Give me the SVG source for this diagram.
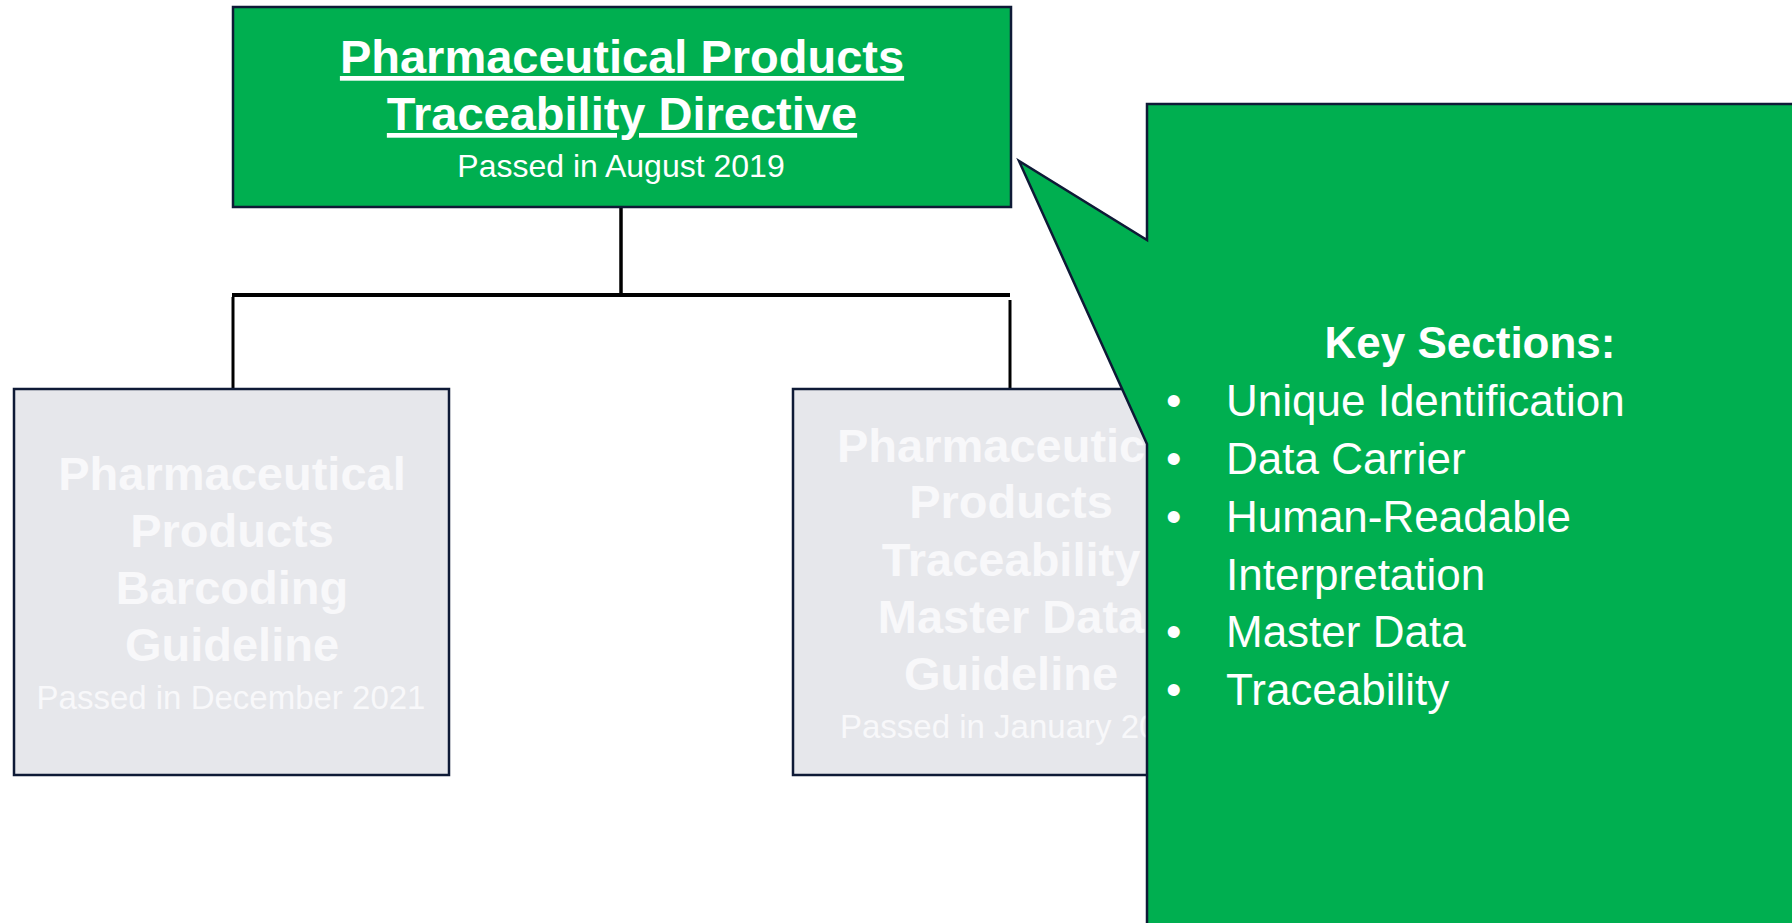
<svg xmlns="http://www.w3.org/2000/svg" width="1792" height="923" viewBox="0 0 1792 923">
<style>
.box{stroke:#0E1A36;stroke-width:2.5}
.green{fill:#00AF50}
.grey{fill:#E6E7EB}
.t{font-family:"Liberation Sans",Arial,sans-serif;text-anchor:middle}
.s{font-family:"Liberation Sans",Arial,sans-serif;text-anchor:start}
.b{font-weight:bold}
.w{fill:#FFFFFF}
.gw{fill:#F8F8FA}
.conn{stroke:#000;fill:none}
.li{font-family:"Liberation Sans",Arial,sans-serif;font-size:44px;fill:#FFFFFF}
</style>
<rect width="1792" height="923" fill="#FFFFFF"/>
<g id="connectors">
<line class="conn" x1="621" y1="207" x2="621" y2="297" stroke-width="3.5"/>
<line class="conn" x1="232" y1="295" x2="1010" y2="295" stroke-width="4"/>
<line class="conn" x1="233" y1="297" x2="233" y2="389" stroke-width="3"/>
<line class="conn" x1="1010" y1="300" x2="1010" y2="389" stroke-width="3"/>
</g>
<g id="directive">
<rect class="box green" x="233" y="7" width="778" height="200"/>
<text class="t b w" x="622" y="73" font-size="47" text-decoration="underline">Pharmaceutical Products</text>
<text class="t b w" x="622" y="130" font-size="47" text-decoration="underline">Traceability Directive</text>
<text class="t w" x="621" y="177" font-size="32">Passed in August 2019</text>
</g>
<g id="barcoding">
<rect class="box grey" x="14" y="389" width="435" height="386"/>
<text class="t b gw" x="232" y="490" font-size="47">Pharmaceutical</text>
<text class="t b gw" x="232" y="547" font-size="47">Products</text>
<text class="t b gw" x="232" y="604" font-size="47">Barcoding</text>
<text class="t b gw" x="232" y="661" font-size="47">Guideline</text>
<text class="t gw" x="231" y="709" font-size="33">Passed in December 2021</text>
</g>
<g id="masterdata">
<rect class="box grey" x="793" y="389" width="435" height="386"/>
<text class="s b gw" x="837" y="462" font-size="47">Pharmaceutic</text>
<text class="t b gw" x="1011" y="518" font-size="47">Products</text>
<text class="t b gw" x="1011" y="576" font-size="47">Traceability</text>
<text class="t b gw" x="1011" y="633" font-size="47">Master Data</text>
<text class="t b gw" x="1011" y="690" font-size="47">Guideline</text>
<text class="s gw" x="840" y="738" font-size="33">Passed in January 20</text>
</g>
<g id="callout">
<path class="box green" d="M1147,104 H1800 V935 H1147 V444 L1019,161 L1147,240 Z"/>
<text class="t b w" x="1470" y="358" font-size="44">Key Sections:</text>
<g class="li">
<text x="1166" y="416">•</text><text x="1226" y="416">Unique Identification</text>
<text x="1166" y="474">•</text><text x="1226" y="474">Data Carrier</text>
<text x="1166" y="532">•</text><text x="1226" y="532">Human-Readable</text>
<text x="1226" y="590">Interpretation</text>
<text x="1166" y="647">•</text><text x="1226" y="647">Master Data</text>
<text x="1166" y="705">•</text><text x="1226" y="705">Traceability</text>
</g>
</g>
</svg>
